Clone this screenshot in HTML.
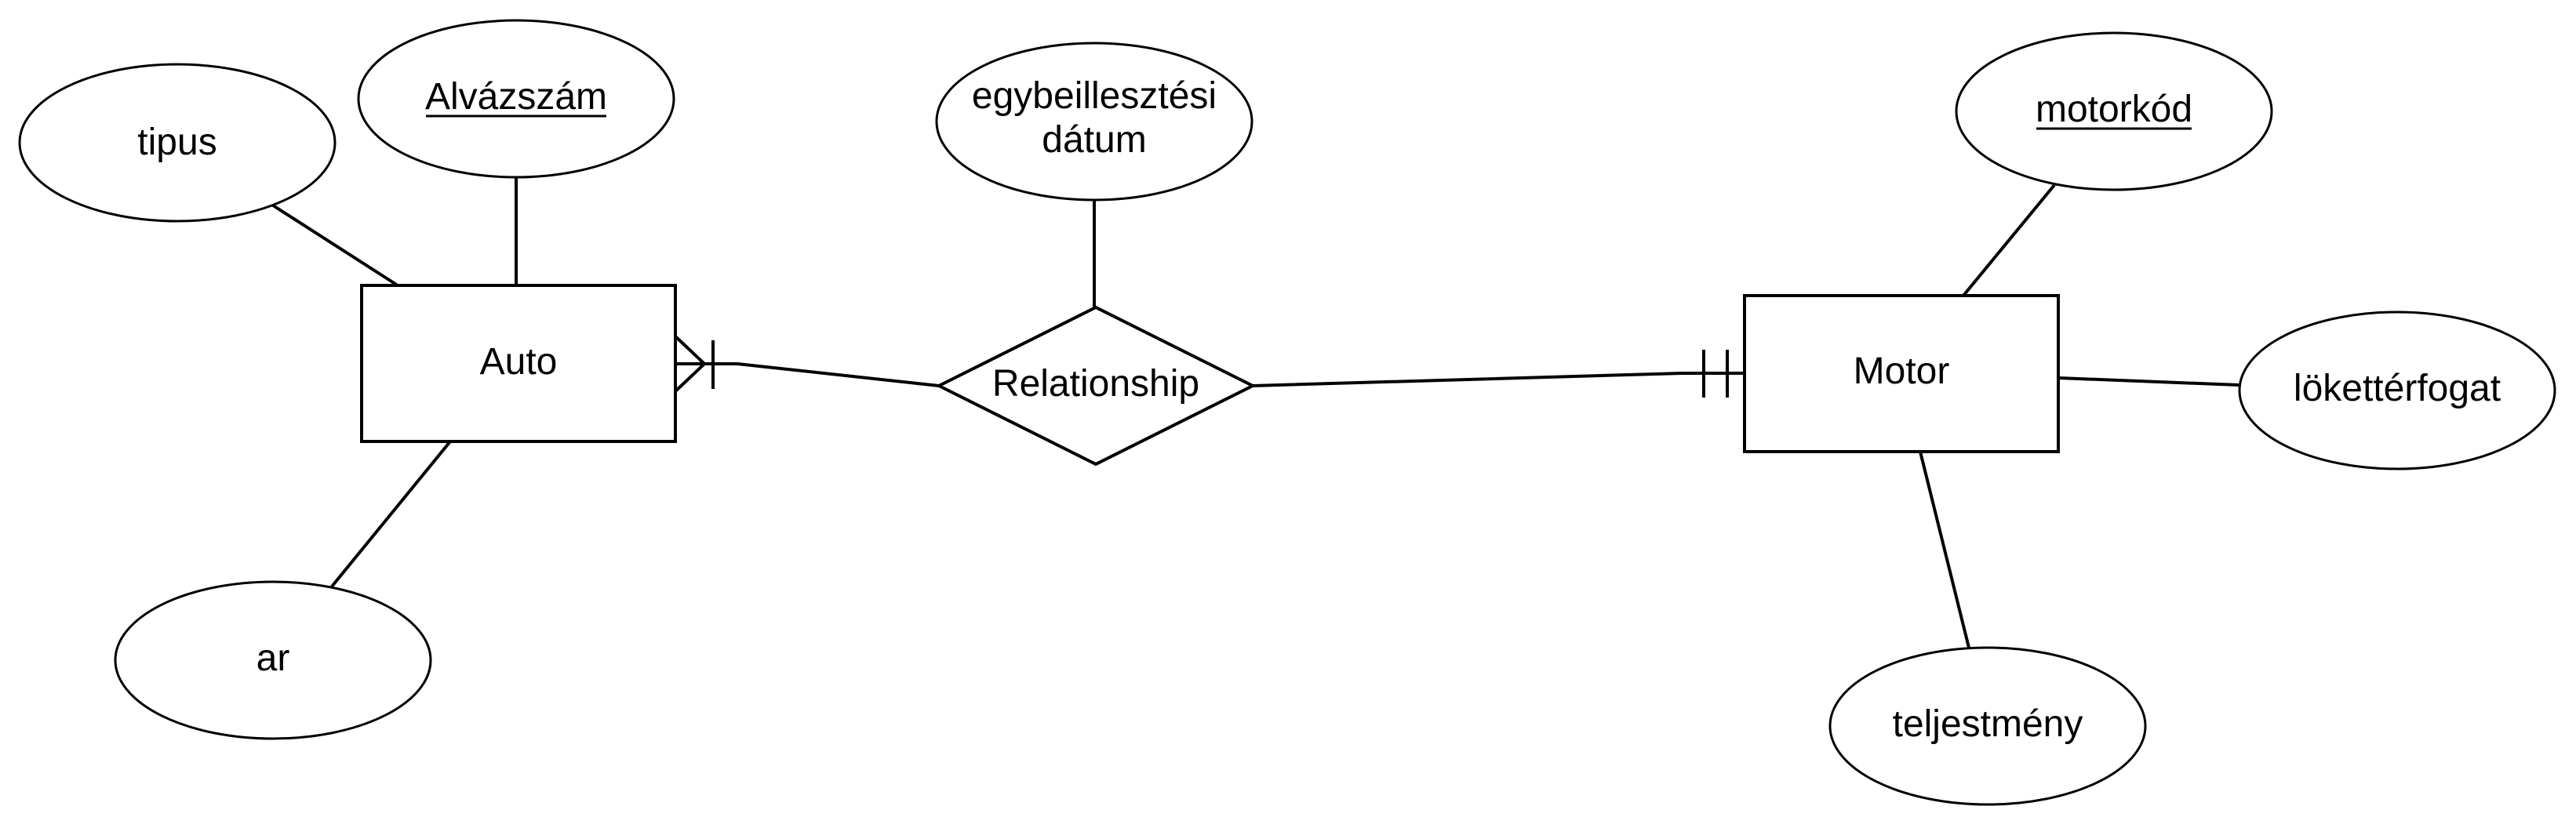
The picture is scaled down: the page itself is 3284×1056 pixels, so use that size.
<!DOCTYPE html>
<html><head><meta charset="utf-8"><style>
html,body{margin:0;padding:0;background:#fff;}
svg{display:block;}
text{font-family:"Liberation Sans",sans-serif;font-size:48px;fill:#000;}
</style></head><body>
<svg width="3284" height="1056" viewBox="0 0 3284 1056" xmlns="http://www.w3.org/2000/svg">
<g fill="#fff" stroke="#000" stroke-width="3">
<ellipse cx="226" cy="182" rx="201" ry="100"/>
<ellipse cx="658" cy="126" rx="201" ry="100"/>
<ellipse cx="1395" cy="155" rx="201" ry="100"/>
<ellipse cx="348" cy="842" rx="201" ry="100"/>
<ellipse cx="2695" cy="142" rx="201" ry="100"/>
<ellipse cx="3056" cy="498" rx="201" ry="100"/>
<ellipse cx="2534" cy="926" rx="201" ry="100"/>
</g>
<g fill="none" stroke="#000" stroke-width="4">
<rect x="461" y="364" width="400" height="199"/>
<rect x="2224" y="377" width="400" height="199"/>
<polygon points="1197,492 1397,392 1597,492 1397,592"/>
<line x1="348" y1="262" x2="507" y2="364"/>
<line x1="658" y1="226" x2="658" y2="364"/>
<line x1="1395" y1="255" x2="1395" y2="392"/>
<line x1="423" y1="748" x2="574" y2="563"/>
<polyline points="861,464 940,464 1197,492"/>
<line x1="861" y1="429" x2="898" y2="464"/>
<line x1="861" y1="499" x2="898" y2="464"/>
<line x1="909" y1="434" x2="909" y2="496"/>
<polyline points="1597,492 2145,476 2224,476"/>
<line x1="2172" y1="446" x2="2172" y2="507"/>
<line x1="2202" y1="446" x2="2202" y2="507"/>
<line x1="2619" y1="236" x2="2503" y2="377"/>
<line x1="2624" y1="482" x2="2854" y2="491"/>
<line x1="2448" y1="576" x2="2510" y2="826"/>
</g>
<g text-anchor="middle">
<text x="226" y="197">tipus</text>
<text x="658" y="139">Alvázszám</text>
<line x1="543" y1="148" x2="773" y2="148" stroke="#000" stroke-width="3"/>
<text x="1395" y="138">egybeillesztési</text>
<text x="1395" y="194">dátum</text>
<text x="348" y="855">ar</text>
<text x="2695" y="155">motorkód</text>
<line x1="2596" y1="164" x2="2794" y2="164" stroke="#000" stroke-width="3"/>
<text x="3056" y="511">lökettérfogat</text>
<text x="2534" y="939">teljestmény</text>
<text x="661" y="477">Auto</text>
<text x="2424" y="489">Motor</text>
<text x="1397" y="505">Relationship</text>
</g>
</svg>
</body></html>
